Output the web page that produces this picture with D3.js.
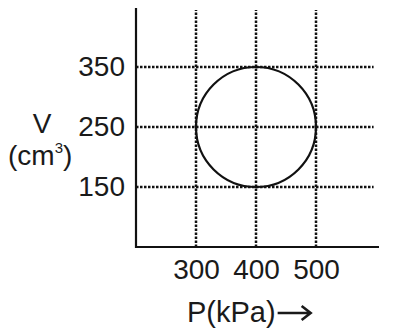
<!DOCTYPE html>
<html>
<head>
<meta charset="utf-8">
<script src="https://cdn.jsdelivr.net/npm/d3@7"></script>
<style>
    body { margin: 0; background: #fff; }
    svg { display: block; }
    text { font-family: "Liberation Sans", Arial, sans-serif; fill: #1a1a1a; }
</style>
</head>
<body>
<div id="chart"></div>
<script>
// Data
const pressureTicks = [300, 400, 500];
const volumeTicks = [150, 250, 350];
const circleCenter = [400, 250]; // P (kPa), V (cm3)
const circleRadius = 100;

const width = 394;
const height = 330;

// Scales (100 units = 60 px on both axes)
const xScale = d3.scaleLinear().domain([200, 600]).range([136, 376]);
const yScale = d3.scaleLinear().domain([50, 450]).range([247, 7]);

const svg = d3.select("#chart")
    .append("svg")
    .attr("width", width)
    .attr("height", height);

// Dotted grid lines
const dots = "2.5,1.5";

svg.selectAll(".vgrid")
    .data(pressureTicks)
    .enter()
    .append("line")
    .attr("class", "vgrid")
    .attr("x1", (d) => xScale(d))
    .attr("x2", (d) => xScale(d))
    .attr("y1", yScale(50))
    .attr("y2", yScale(445))
    .attr("stroke", "#111")
    .attr("stroke-width", 2.5)
    .attr("stroke-dasharray", dots);

svg.selectAll(".hgrid")
    .data(volumeTicks)
    .enter()
    .append("line")
    .attr("class", "hgrid")
    .attr("x1", xScale(200))
    .attr("x2", xScale(596))
    .attr("y1", (d) => yScale(d))
    .attr("y2", (d) => yScale(d))
    .attr("stroke", "#111")
    .attr("stroke-width", 2.5)
    .attr("stroke-dasharray", dots);

// The cycle
svg.append("circle")
    .attr("cx", xScale(circleCenter[0]))
    .attr("cy", yScale(circleCenter[1]))
    .attr("r", xScale(circleCenter[0] + circleRadius) - xScale(circleCenter[0]))
    .attr("fill", "none")
    .attr("stroke", "#111")
    .attr("stroke-width", 2.2);

// Axes
const xAxis = d3.axisBottom(xScale)
    .tickValues(pressureTicks)
    .tickSize(0)
    .tickPadding(12);

const yAxis = d3.axisLeft(yScale)
    .tickValues(volumeTicks)
    .tickSize(0)
    .tickPadding(11);

const gx = svg.append("g")
    .attr("transform", "translate(0," + yScale(50) + ")")
    .call(xAxis);
gx.select(".domain").remove();

const gy = svg.append("g")
    .attr("transform", "translate(" + xScale(200) + ",0)")
    .call(yAxis);
gy.select(".domain").remove();

svg.selectAll(".tick text")
    .attr("font-size", 28)
    .attr("font-family", "Liberation Sans, Arial, sans-serif")
    .attr("fill", "#1a1a1a");

// axis lines
svg.append("line")
    .attr("x1", xScale(200)).attr("x2", xScale(200))
    .attr("y1", 8).attr("y2", yScale(50) + 1)
    .attr("stroke", "#111").attr("stroke-width", 2.2);

svg.append("line")
    .attr("x1", xScale(200) - 1).attr("x2", 379)
    .attr("y1", yScale(50)).attr("y2", yScale(50))
    .attr("stroke", "#111").attr("stroke-width", 2.2);

// Axis titles
const pTitle = svg.append("text")
    .attr("x", 187)
    .attr("y", 322)
    .attr("font-size", 29)
    .text("P(kPa)");

// arrow after the title
const ax = 187 + pTitle.node().getComputedTextLength() + 2;
const ay = 313;
svg.append("path")
    .attr("d", `M${ax},${ay}H${ax + 33}M${ax + 24},${ay - 7}L${ax + 33},${ay}L${ax + 24},${ay + 7}`)
    .attr("fill", "none")
    .attr("stroke", "#1a1a1a")
    .attr("stroke-width", 2.6);

svg.append("text")
    .attr("x", 42)
    .attr("y", 133)
    .attr("text-anchor", "middle")
    .attr("font-size", 28)
    .text("V");

const unit = svg.append("text")
    .attr("x", 8)
    .attr("y", 165)
    .attr("font-size", 28);
unit.append("tspan").text("(cm");
unit.append("tspan")
    .attr("font-size", 15)
    .attr("dy", -12)
    .text("3");
unit.append("tspan")
    .attr("dy", 12)
    .text(")");
</script>
</body>
</html>
